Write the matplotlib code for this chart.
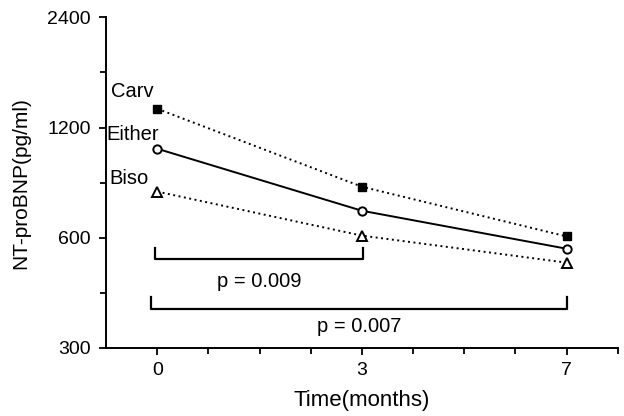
import matplotlib.pyplot as plt
from matplotlib.ticker import FixedLocator, NullFormatter

plt.rcParams['font.family'] = ['Liberation Sans', 'DejaVu Sans']

# time points (months) and their axis slots (the axis is not linear in months)
months = ['0', '3', '7']
slots = [0, 4, 8]

carv = [1350, 827, 605]
either = [1050, 711, 560]
biso = [802, 608, 513]

y_ticks = [300, 600, 1200, 2400]
y_minor = [424, 849, 1697]

fs = 14.5

fig = plt.figure(figsize=(6.24, 4.16), dpi=100)
ax = fig.add_axes([0.170, 0.1635, 0.82, 0.795])

ax.plot(slots, carv, color='black', linestyle=(0, (1, 1.8)), linewidth=1.4,
        marker='s', markersize=6, markerfacecolor='black')
ax.plot(slots, either, color='black', linestyle='-', linewidth=1.4,
        marker='o', markersize=6, markerfacecolor='white', markeredgewidth=1.4)
ax.plot(slots, biso, color='black', linestyle=(0, (1, 1.8)), linewidth=1.4,
        marker='^', markersize=7, markerfacecolor='white', markeredgewidth=1.4)

# series labels
ax.text(-0.9, 1506, 'Carv', fontsize=fs, ha='left', va='center')
ax.text(-0.99, 1148, 'Either', fontsize=fs, ha='left', va='center')
ax.text(-0.94, 870, 'Biso', fontsize=fs, ha='left', va='center')

# significance brackets
ax.plot([-0.05, -0.05, 4.02, 4.02], [563, 526, 526, 563], color='black', linewidth=1.6)
ax.text(1.99, 455, 'p = 0.009', fontsize=fs, ha='center', va='center')
ax.plot([-0.12, -0.12, 8.0, 8.0], [414, 384, 384, 414], color='black', linewidth=1.6)
ax.text(3.95, 343, 'p = 0.007', fontsize=fs, ha='center', va='center')

ax.set_yscale('log')
ax.set_ylim(300, 2400)
ax.yaxis.set_major_locator(FixedLocator(y_ticks))
ax.set_yticklabels([str(v) for v in y_ticks])
ax.yaxis.set_minor_locator(FixedLocator(y_minor))
ax.yaxis.set_minor_formatter(NullFormatter())

ax.set_xlim(-1, 9)
ax.set_xticks(slots)
ax.set_xticklabels(months)
ax.set_xticks([1, 2, 3, 5, 6, 7, 9], minor=True)

ax.tick_params(axis='both', which='major', labelsize=14, length=5, width=1.3, direction='out')
ax.tick_params(axis='y', which='major', pad=6)
ax.tick_params(axis='x', which='major', pad=5)
ax.tick_params(axis='both', which='minor', length=4, width=1.3, direction='out')

for side in ['top', 'right']:
    ax.spines[side].set_visible(False)
for side in ['left', 'bottom']:
    ax.spines[side].set_linewidth(1.4)

ax.set_xlabel('Time(months)', fontsize=16, labelpad=8)
ax.set_ylabel('NT-proBNP(pg/ml)', fontsize=15, labelpad=12)

plt.savefig('out.png', dpi=100)
